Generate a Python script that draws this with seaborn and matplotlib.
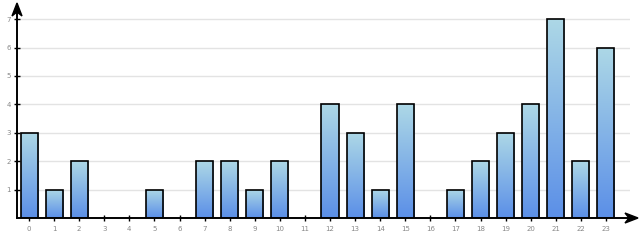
import matplotlib
matplotlib.use("Agg")
import matplotlib.pyplot as plt
import seaborn as sns
import numpy as np
import pandas as pd
from matplotlib.colors import LinearSegmentedColormap
from matplotlib.patches import Polygon

categories = [str(i) for i in range(24)]
values = [3, 1, 2, 0, 0, 1, 0, 2, 2, 1, 2, 0, 4, 3, 1, 4, 0, 1, 2, 3, 4, 7, 2, 6]
y_ticks = [1, 2, 3, 4, 5, 6, 7]

sns.set_style("white")
plt.rcParams['font.family'] = ['DejaVu Sans']

fig = plt.figure(figsize=(6.4, 2.4), dpi=100)
ax = fig.add_axes([17/640, 22/240, (630-17)/640, (218-10)/240])

df = pd.DataFrame({"cat": categories, "val": values})
sns.barplot(data=df, x="cat", y="val", ax=ax, width=0.68, color="#8ab4e8",
            edgecolor="black", linewidth=1.2, zorder=3)

cmap = LinearSegmentedColormap.from_list("g", ["#5b8fe8", "#add8e6"])
grad = np.linspace(0, 1, 256).reshape(-1, 1)
for p in list(ax.patches):
    x0, y0 = p.get_x(), p.get_y()
    w, h = p.get_width(), p.get_height()
    if h <= 0:
        p.set_visible(False)
        continue
    im = ax.imshow(grad, cmap=cmap, origin="lower", aspect="auto",
                   extent=[x0, x0 + w, y0, y0 + h], zorder=3.5)
    im.set_clip_path(p)
    p.set_facecolor("none")
    p.set_joinstyle("miter")
    p.set_zorder(4)

ax.set_xlim(-0.48, 23.96)
ax.set_ylim(0, 7.32)
ax.set_yticks(y_ticks)
ax.set_yticklabels([str(t) for t in y_ticks])
ax.set_xlabel("")
ax.set_ylabel("")
ax.grid(axis="y", color="#e3e3e3", linewidth=1, zorder=0)
ax.grid(axis="x", visible=False)
for s in ["top", "right"]:
    ax.spines[s].set_visible(False)
for s in ["left", "bottom"]:
    ax.spines[s].set_color("black")
    ax.spines[s].set_linewidth(1.2)
ax.tick_params(axis="both", direction="inout", length=5, width=1, color="black",
               labelsize=5, labelcolor="#888888", pad=2)
ax.tick_params(axis="x", bottom=True, pad=3)
ax.tick_params(axis="y", left=True)

# stealth-style arrowheads (pixel coords converted to figure fraction)
def px(x, y):
    return (x / 640, 1 - y / 240)

fig.add_artist(matplotlib.lines.Line2D([17/640, 17/640], [22/240, 1 - 8/240],
                                       color="black", lw=1.2, transform=fig.transFigure))
fig.add_artist(matplotlib.lines.Line2D([17/640, 630/640], [22/240, 22/240],
                                       color="black", lw=1.2, transform=fig.transFigure))
fig.add_artist(Polygon([px(17, 3), px(22, 16), px(17, 12), px(12, 16)], closed=True,
                       color="black", transform=fig.transFigure))
fig.add_artist(Polygon([px(638, 218), px(625, 223), px(629, 218), px(625, 213)], closed=True,
                       color="black", transform=fig.transFigure))

fig.savefig("out.png", dpi=100)
